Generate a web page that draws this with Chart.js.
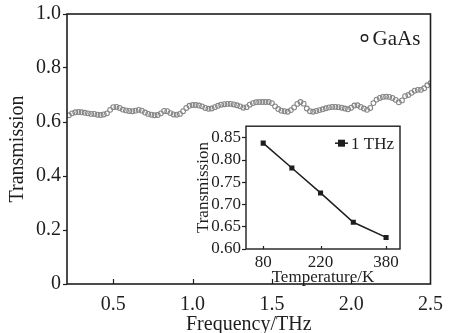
<!DOCTYPE html>
<html><head><meta charset="utf-8">
<script src="https://cdn.jsdelivr.net/npm/chart.js@4.4.0/dist/chart.umd.min.js"></script>
<style>
html,body{margin:0;padding:0;background:#fff;}
#wrap{position:relative;width:452px;height:333px;overflow:hidden;}
#main{position:absolute;left:0;top:0;width:452px;height:333px;}
#inset{position:absolute;left:190px;top:115px;width:220px;height:172px;}
</style></head><body>
<div id="wrap"><canvas id="main" width="452" height="333"></canvas><canvas id="inset" width="220" height="172"></canvas></div>
<script>
const freqTHz = [0.22,0.24,0.26,0.28,0.30,0.32,0.34,0.36,0.38,0.40,0.42,0.44,0.46,0.48,0.50,0.52,0.54,0.56,0.58,0.60,0.62,0.64,0.66,0.68,0.70,0.72,0.74,0.76,0.78,0.80,0.82,0.84,0.86,0.88,0.90,0.92,0.94,0.96,0.98,1.00,1.02,1.04,1.06,1.08,1.10,1.12,1.14,1.16,1.18,1.20,1.22,1.24,1.26,1.28,1.30,1.32,1.34,1.36,1.38,1.40,1.42,1.44,1.46,1.48,1.50,1.52,1.54,1.56,1.58,1.60,1.62,1.64,1.66,1.68,1.70,1.72,1.74,1.76,1.78,1.80,1.82,1.84,1.86,1.88,1.90,1.92,1.94,1.96,1.98,2.00,2.02,2.04,2.06,2.08,2.10,2.12,2.14,2.16,2.18,2.20,2.22,2.24,2.26,2.28,2.30,2.32,2.34,2.36,2.38,2.40,2.42,2.44,2.46,2.48,2.50];
const gaasTransmission = [0.625,0.632,0.636,0.637,0.636,0.634,0.632,0.630,0.630,0.627,0.626,0.628,0.632,0.645,0.655,0.656,0.652,0.646,0.643,0.641,0.640,0.642,0.645,0.642,0.635,0.630,0.627,0.625,0.626,0.632,0.641,0.640,0.633,0.628,0.627,0.630,0.640,0.652,0.660,0.663,0.663,0.661,0.658,0.652,0.649,0.650,0.655,0.660,0.664,0.666,0.667,0.667,0.665,0.662,0.658,0.653,0.655,0.664,0.670,0.673,0.674,0.674,0.674,0.674,0.670,0.658,0.648,0.642,0.640,0.638,0.644,0.654,0.667,0.674,0.668,0.650,0.640,0.638,0.641,0.644,0.647,0.651,0.654,0.656,0.656,0.655,0.653,0.650,0.647,0.653,0.661,0.662,0.656,0.650,0.645,0.652,0.670,0.683,0.689,0.693,0.694,0.693,0.689,0.682,0.673,0.680,0.696,0.700,0.708,0.716,0.719,0.719,0.725,0.736,0.744];
const mainXTicks = [0.5,1.0,1.5,2.0,2.5];
const mainYTicks = [0,0.2,0.4,0.6,0.8,1.0];
const temperatureK = [80,150,220,300,380];
const transmission1THz = [0.838,0.782,0.726,0.660,0.626];
const insetXTicks = [80,220,380];
const insetYTicks = [0.60,0.65,0.70,0.75,0.80,0.85];

const FONT = '"Liberation Serif","Times New Roman",serif';
const INK = '#1e1e1e';
Chart.defaults.font.family = FONT;
Chart.defaults.color = INK;
Chart.defaults.animation = false;

function setTicks(arr){ return function(scale){ scale.ticks = arr.map(v=>({value:v})); }; }

function framePlugin(opts){
  return {
    id:'frame_'+opts.id,
    afterDraw(chart){
      const ctx = chart.ctx, a = chart.chartArea, xs = chart.scales.x;
      ctx.save();
      ctx.strokeStyle = INK; ctx.lineWidth = opts.lw;
      ctx.strokeRect(a.left, a.top, a.right-a.left, a.bottom-a.top);
      ctx.lineWidth = 1.2;
      xs.ticks.forEach(t=>{
        const px = Math.round(xs.getPixelForValue(t.value))+0.5;
        if (px > a.left+1 && px < a.right-1){
          ctx.beginPath(); ctx.moveTo(px, a.bottom); ctx.lineTo(px, a.bottom-opts.inTick); ctx.stroke();
        }
      });
      // legend
      const ds = chart.data.datasets[0];
      ctx.fillStyle = INK; ctx.textBaseline='middle'; ctx.textAlign='left';
      ctx.font = opts.legendFont;
      if (opts.id==='main'){
        const cx = a.right-72+6, cy = a.top+24;
        ctx.strokeStyle = INK; ctx.lineWidth = 1.4;
        ctx.beginPath(); ctx.arc(cx, cy, 3.2, 0, Math.PI*2); ctx.stroke();
        ctx.fillText(ds.label, cx+8, cy+1);
      } else {
        const x0 = a.right-65, cy = a.top+17;
        ctx.strokeStyle = INK; ctx.lineWidth = 1.5;
        ctx.beginPath(); ctx.moveTo(x0, cy); ctx.lineTo(x0+13, cy); ctx.stroke();
        ctx.fillRect(x0+3, cy-3.5, 7, 7);
        ctx.fillText(ds.label, x0+16, cy+1);
      }
      ctx.restore();
    }
  };
}

new Chart(document.getElementById('main'), {
  type:'scatter',
  data:{datasets:[{
    label:'GaAs',
    data: freqTHz.map((f,i)=>({x:f, y:gaasTransmission[i]})),
    showLine:false,
    pointRadius:2.4,
    pointBorderWidth:1.1,
    pointBorderColor:'#868686',
    pointBackgroundColor:'rgba(255,255,255,0)'
  }]},
  options:{
    responsive:false, devicePixelRatio:1,
    layout:{padding:{top:14,right:17,left:0,bottom:0}},
    plugins:{legend:{display:false},tooltip:{enabled:false}},
    scales:{
      x:{type:'linear', min:0.208, max:2.5,
        afterBuildTicks:setTicks(mainXTicks),
        afterFit(s){ s.height = 49; },
        grid:{drawOnChartArea:false, drawTicks:false},
        border:{display:false},
        ticks:{padding:9, font:{size:20}, color:INK, callback:v=>Number(v).toFixed(1), maxRotation:0},
        title:{display:true, text:'Frequency/THz', font:{size:20}, color:INK, padding:{top:0,bottom:-4}}
      },
      y:{type:'linear', min:0, max:1.0,
        afterBuildTicks:setTicks(mainYTicks),
        afterFit(s){ s.width = 67; },
        grid:{drawOnChartArea:false, drawTicks:true, tickLength:4, tickColor:INK, tickWidth:1.2},
        border:{display:false},
        ticks:{padding:2, font:{size:20}, color:INK, callback:v=> v===0 ? '0' : Number(v).toFixed(1)},
        title:{display:true, text:'Transmission', font:{size:20}, color:INK, padding:{top:6,bottom:0}}
      }
    }
  },
  plugins:[framePlugin({id:'main', lw:1.6, inTick:5, legendFont:'21px '+FONT})]
});

new Chart(document.getElementById('inset'), {
  type:'scatter',
  data:{datasets:[{
    label:'1 THz',
    data: temperatureK.map((t,i)=>({x:t, y:transmission1THz[i]})),
    showLine:true,
    borderColor:INK, borderWidth:1.5,
    pointStyle:'rect', pointRadius:3.6,
    pointBackgroundColor:INK, pointBorderColor:INK, pointBorderWidth:0
  }]},
  options:{
    responsive:false, devicePixelRatio:1,
    layout:{padding:{top:8,right:10,left:0,bottom:0}},
    plugins:{legend:{display:false},tooltip:{enabled:false}},
    scales:{
      x:{type:'linear', min:38, max:414,
        afterBuildTicks:setTicks(insetXTicks),
        afterFit(s){ s.height = 38; },
        grid:{drawOnChartArea:false, drawTicks:false},
        border:{display:false},
        ticks:{padding:3, font:{size:17}, color:INK, maxRotation:0},
        title:{display:true, text:'Temperature/K', font:{size:17}, color:INK, padding:{top:0,bottom:-1}}
      },
      y:{type:'linear', min:0.6, max:0.876,
        afterBuildTicks:setTicks(insetYTicks),
        afterFit(s){ s.width = 56; },
        grid:{drawOnChartArea:false, drawTicks:true, tickLength:4, tickColor:INK, tickWidth:1.2},
        border:{display:false},
        ticks:{padding:1, font:{size:17}, color:INK, callback:v=>Number(v).toFixed(2)},
        title:{display:true, text:'Transmission', font:{size:17}, color:INK, padding:{top:3,bottom:0}}
      }
    }
  },
  plugins:[framePlugin({id:'inset', lw:1.4, inTick:3, legendFont:'17px '+FONT})]
});
</script>
</body></html>
